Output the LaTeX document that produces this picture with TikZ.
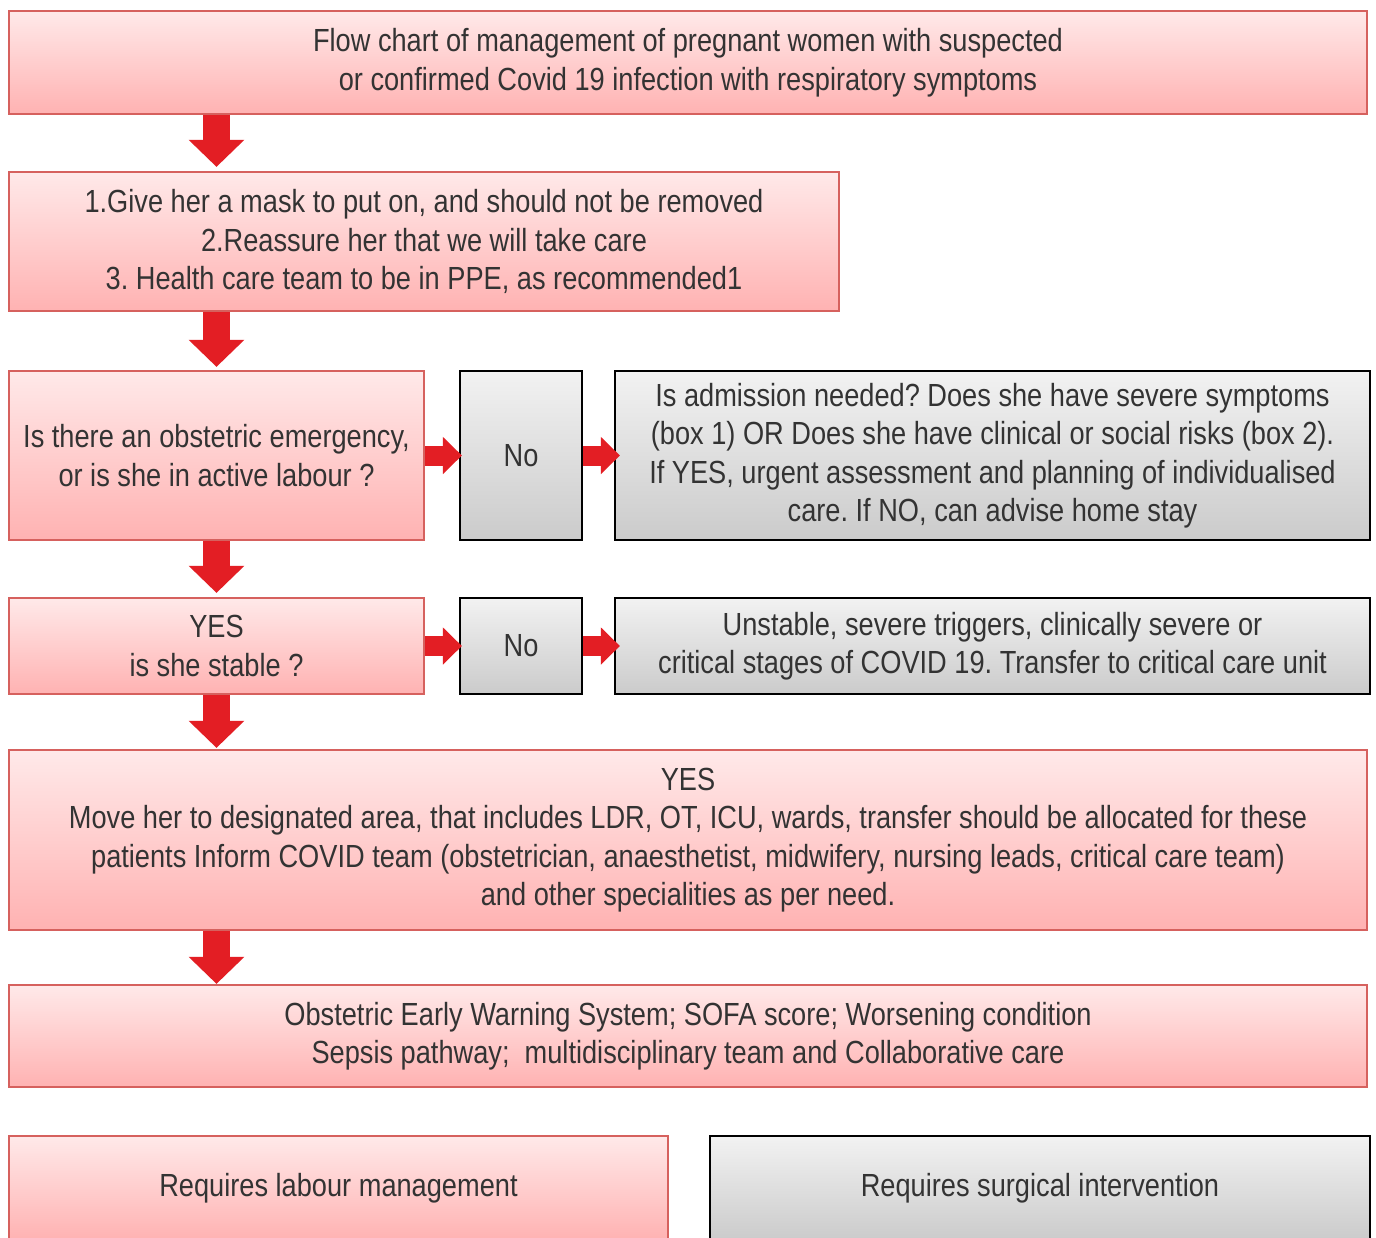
\documentclass[tikz,border=0pt]{standalone}
\usepackage{fontspec}
\setmainfont{Liberation Sans}[FakeStretch=0.85]
\usetikzlibrary{arrows.meta}
\definecolor{redborder}{HTML}{D6615E}
\definecolor{redtop}{HTML}{FFE9E9}
\definecolor{redbot}{HTML}{FFB2B2}
\definecolor{graytop}{HTML}{F2F2F2}
\definecolor{graybot}{HTML}{CBCBCB}
\definecolor{arrowred}{HTML}{E31E24}
\definecolor{txt}{HTML}{333333}
\frenchspacing
\tikzset{
  basebox/.style={rectangle, inner sep=0pt, align=center, text=txt,
    font=\fontsize{32}{38.5}\selectfont\frenchspacing, line width=2.2pt},
  redbox/.style={basebox, draw=redborder, top color=redtop, bottom color=redbot},
  graybox/.style={basebox, draw=black, top color=graytop, bottom color=graybot},
  downarrow/.style={draw=arrowred, line width=27pt,
    -{Triangle[width=54pt,length=27pt,fill=arrowred]}},
  sidearrow/.style={draw=arrowred, line width=20pt,
    -{Triangle[width=36pt,length=19pt,fill=arrowred]}},
}
\begin{document}
\begin{tikzpicture}[x=1pt,y=-1pt]
\useasboundingbox (0,0) rectangle (1376,1237);
\clip (0,0) rectangle (1376,1237);
\fill[white] (0,0) rectangle (1376,1237);

\node[redbox, minimum width=1358pt, minimum height=103pt] (b1) at (688,62.5)
  {Flow chart of management of pregnant women with suspected\\or confirmed Covid 19 infection with respiratory symptoms};
\node[redbox, minimum width=830pt, minimum height=139pt] (b2) at (424,241.5)
  {1.Give her a mask to put on, and should not be removed\\2.Reassure her that we will take care\\3. Health care team to be in PPE, as recommended1};
\node[redbox, minimum width=415pt, minimum height=169pt] (b3) at (216.5,455.5)
  {Is there an obstetric emergency,\\or is she in active labour ?};
\node[graybox, minimum width=122pt, minimum height=169pt] (n1) at (521,455.5) {No};
\node[graybox, minimum width=755pt, minimum height=169pt] (r1) at (992.5,455.5)
  {Is admission needed? Does she have severe symptoms\\(box 1) OR Does she have clinical or social risks (box 2).\\If YES, urgent assessment and planning of individualised\\care. If NO, can advise home stay};
\node[redbox, minimum width=415pt, minimum height=96pt] (b4) at (216.5,646)
  {YES\\is she stable ?};
\node[graybox, minimum width=122pt, minimum height=96pt] (n2) at (521,646) {No};
\node[graybox, minimum width=755pt, minimum height=96pt] (r2) at (992.5,646)
  {Unstable, severe triggers, clinically severe or\\critical stages of COVID 19. Transfer to critical care unit};
\node[redbox, minimum width=1358pt, minimum height=180pt] (b5) at (688,840)
  {YES\\Move her to designated area, that includes LDR, OT, ICU, wards, transfer should be allocated for these\\patients Inform COVID team (obstetrician, anaesthetist, midwifery, nursing leads, critical care team)\\and other specialities as per need.};
\node[redbox, minimum width=1358pt, minimum height=102pt] (b6) at (688,1036)
  {Obstetric Early Warning System; SOFA score; Worsening condition\\Sepsis pathway;\ \ multidisciplinary team and Collaborative care};
\node[redbox, minimum width=659pt, minimum height=104pt] (b7) at (338.5,1188)
  {Requires labour management};
\node[graybox, minimum width=660pt, minimum height=104pt] (b8) at (1040,1188)
  {Requires surgical intervention};

\draw[downarrow, shorten >=4pt] (b1.south -| b3) -- (b2.north -| b3);
\draw[downarrow, shorten >=3pt] (b2.south -| b3) -- (b3.north);
\draw[downarrow, shorten >=4pt] (b3.south) -- (b4.north);
\draw[downarrow, shorten >=1pt] (b4.south) -- (b5.north -| b4);
\draw[downarrow] (b5.south -| b4) -- (b6.north -| b4);
\draw[sidearrow, shorten >=-3pt] (b3.east) -- (n1.west);
\draw[sidearrow, shorten >=-6pt] (n1.east) -- (r1.west);
\draw[sidearrow, shorten >=-3pt] (b4.east) -- (n2.west);
\draw[sidearrow, shorten >=-6pt] (n2.east) -- (r2.west);
\end{tikzpicture}
\end{document}
